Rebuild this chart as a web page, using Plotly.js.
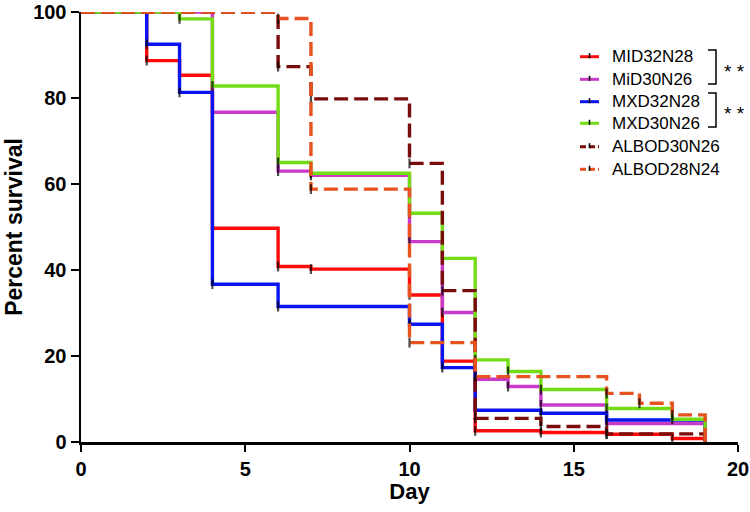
<!DOCTYPE html>
<html>
<head>
<meta charset="utf-8">
<script src="https://cdn.plot.ly/plotly-3.0.1.min.js"></script>
<style>html,body{margin:0;padding:0;background:#fff;}#chart{width:750px;height:512px;}</style>
</head>
<body>
<div id="chart"></div>
<script>
// ---- data ----
const seriesNames = ["MID32N28", "MiD30N26", "MXD32N28", "MXD30N26", "ALBOD30N26", "ALBOD28N24"];

const mid32Days = [0, 2, 3, 4, 6, 7, 10, 11, 12, 14, 16, 18, 19];
const mid32Surv = [100, 88.7, 85.3, 49.7, 40.8, 40.2, 34.2, 18.8, 2.6, 2.2, 1.8, 0.8, 0];

const mid30Days = [0, 4, 6, 7, 10, 11, 12, 13, 14, 16, 19];
const mid30Surv = [100, 76.7, 63.0, 62.0, 46.6, 30.1, 14.6, 12.9, 8.6, 4.3, 0];

const mxd32Days = [0, 2, 3, 4, 6, 10, 11, 12, 14, 16, 19];
const mxd32Surv = [100, 92.5, 81.3, 36.7, 31.5, 27.4, 17.3, 7.4, 6.7, 5.1, 0];

const mxd30Days = [0, 3, 4, 6, 7, 10, 11, 12, 13, 14, 16, 18, 19];
const mxd30Surv = [100, 98.4, 82.8, 65.0, 62.5, 53.2, 42.7, 19.1, 16.4, 12.2, 7.8, 5.3, 0];

const albo30Days = [0, 6, 7, 10, 11, 12, 14, 16, 19];
const albo30Surv = [100, 87.3, 79.8, 64.8, 35.2, 5.5, 3.6, 1.9, 0];

const albo28Days = [0, 6, 7, 10, 12, 16, 17, 18, 19];
const albo28Surv = [100, 98.5, 58.8, 23.1, 15.2, 11.3, 9.0, 6.3, 0];

const xTicks = [0, 5, 10, 15, 20];
const yTicks = [0, 20, 40, 60, 80, 100];
const xTitle = "Day";
const yTitle = "Percent survival";
const sigMark = "* *";

// ---- styles ----
const colors = ["#FF0A0A", "#C93AC9", "#0A14F0", "#74DC14", "#7A0C0C", "#E8521E"];
const dashes = ["solid", "solid", "solid", "solid", "14px,6px", "14px,6px"];
const allDays = [mid32Days, mid30Days, mxd32Days, mxd30Days, albo30Days, albo28Days];
const allSurv = [mid32Surv, mid30Surv, mxd32Surv, mxd30Surv, albo30Surv, albo28Surv];

const W = 750, H = 512;
const M = {l: 81, r: 12, t: 12, b: 70};
const PW = W - M.l - M.r, PH = H - M.t - M.b;
const px = v => (v - M.l) / PW;
const py = v => (H - M.b - v) / PH;

const traces = allDays.map((d, i) => ({
  type: "scatter",
  mode: "lines+markers",
  x: d,
  y: allSurv[i],
  name: seriesNames[i],
  line: {shape: "hv", color: colors[i], width: 3.4, dash: dashes[i]},
  marker: {
    symbol: "line-ns",
    size: d.map((_, k) => (k === 0 || k === d.length - 1) ? 0 : 7),
    color: "#000",
    line: {color: "#000", width: 2.2}
  },
  cliponaxis: false,
  showlegend: false,
  hoverinfo: "x+y+name"
}));

// custom legend
const rowY = [56.7, 79.3, 101.7, 123.3, 146.7, 169.3];
const shapes = [];
const annotations = [];
seriesNames.forEach((n, i) => {
  shapes.push({type: "line", xref: "paper", yref: "paper",
    x0: px(580), x1: px(599), y0: py(rowY[i]), y1: py(rowY[i]),
    line: {color: colors[i], width: 3, dash: i >= 4 ? "6px,3px" : "solid"}});
  shapes.push({type: "line", xref: "paper", yref: "paper",
    x0: px(589.5), x1: px(589.5), y0: py(rowY[i] - 3.5), y1: py(rowY[i] + 1.5),
    line: {color: "#000", width: 1.6}});
  annotations.push({xref: "paper", yref: "paper", x: px(610), y: py(rowY[i]),
    xanchor: "left", yanchor: "middle", showarrow: false, text: n,
    font: {family: "Liberation Sans, Arial, sans-serif", size: 17, color: "#000"}});
});
// significance brackets
[[50, 84], [93, 127]].forEach(([a, b]) => {
  shapes.push({type: "path", xref: "paper", yref: "paper",
    path: `M ${px(708)} ${py(a)} L ${px(716)} ${py(a)} L ${px(716)} ${py(b)} L ${px(708)} ${py(b)}`,
    line: {color: "#000", width: 1.5}});
  annotations.push({xref: "paper", yref: "paper", x: px(734), y: py((a + b) / 2 + 4),
    xanchor: "center", yanchor: "middle", showarrow: false, text: sigMark,
    font: {family: "Liberation Sans, Arial, sans-serif", size: 19, color: "#000"}});
});

const tickFont = {family: "Liberation Sans, Arial, sans-serif", size: 20, color: "#000", weight: "bold"};
const titleFont = {family: "Liberation Sans, Arial, sans-serif", size: 23, color: "#000", weight: "bold"};

const layout = {
  width: W, height: H,
  margin: M,
  paper_bgcolor: "#fff", plot_bgcolor: "#fff",
  showlegend: false,
  xaxis: {
    range: [0, 20], tickvals: xTicks, ticktext: xTicks.map(String),
    showgrid: false, zeroline: false, showline: true, linecolor: "#000", linewidth: 2.5,
    ticks: "outside", ticklen: 7, tickwidth: 2, tickcolor: "#000",
    tickfont: tickFont, automargin: false,
    title: {text: xTitle, font: {...titleFont, size: 22}, standoff: 2}
  },
  yaxis: {
    range: [0, 100], tickvals: yTicks, ticktext: yTicks.map(String),
    showgrid: false, zeroline: false, showline: true, linecolor: "#000", linewidth: 2.5,
    ticks: "outside", ticklen: 8, tickwidth: 2, tickcolor: "#000",
    tickfont: tickFont, automargin: false,
    title: {text: yTitle, font: titleFont, standoff: 4}
  },
  shapes: shapes,
  annotations: annotations
};

Plotly.newPlot("chart", traces, layout, {staticPlot: true, displayModeBar: false});
</script>
</body>
</html>
